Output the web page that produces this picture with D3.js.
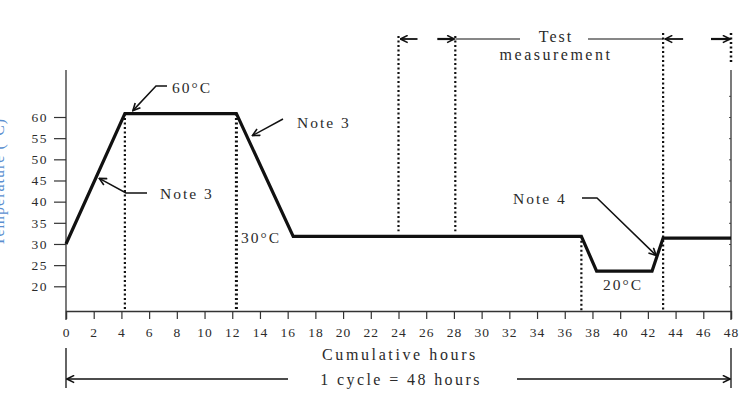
<!DOCTYPE html>
<html>
<head>
<meta charset="utf-8">
<script src="https://cdn.jsdelivr.net/npm/d3@7"></script>
<style>
  body { margin: 0; background: #fff; }
  text { font-family: "Liberation Serif", "Times New Roman", serif; fill: #2b2b2b; }
</style>
</head>
<body>
<div id="chart"></div>
<script>
// chart size
const width = 756;
const height = 393;

// temperature profile of one cycle (hours, degC)
const hours = [0, 4.25, 12.3, 16.4, 37.2, 38.3, 42.3, 43.1, 48];
const temps = [30, 60.8, 60.8, 31.8, 31.8, 23.6, 23.6, 31.4, 31.4];

// tick labels
const xTicks = [0, 2, 4, 6, 8, 10, 12, 14, 16, 18, 20, 22, 24, 26, 28, 30, 32, 34, 36, 38, 40, 42, 44, 46, 48];
const yTicks = [20, 25, 30, 35, 40, 45, 50, 55, 60];
const rightTicks = [20, 25, 30, 35, 40, 45, 50, 55, 60, 65];

// dotted marker lines
const dropHours = [4.25, 12.3, 37.2];
const testHours = [24, 28.1];
const testEdge = 43.1;
const cycleEnd = 48;

const svg = d3.select("#chart")
  .append("svg")
  .attr("width", width)
  .attr("height", height);

const x = d3.scaleLinear().domain([0, 48]).range([66, 731]);
const y = d3.scaleLinear().domain([20, 60]).range([286.3, 117]);
const axisY = 311;   // x axis position
const topY = 70;     // top of y axis

// arrow head
svg.append("defs").append("marker")
  .attr("id", "arr")
  .attr("viewBox", "0 0 10 10")
  .attr("refX", 9)
  .attr("refY", 5)
  .attr("markerWidth", 9)
  .attr("markerHeight", 9)
  .attr("markerUnits", "userSpaceOnUse")
  .attr("orient", "auto")
  .append("path")
  .attr("d", "M1,1 L9,5 L1,9")
  .attr("fill", "none")
  .attr("stroke", "#111")
  .attr("stroke-width", 1.8);

// y axis
const yAxis = svg.append("g")
  .attr("transform", "translate(" + x(0) + ",0)")
  .call(d3.axisLeft(y).tickValues(yTicks).tickSize(12).tickPadding(6));
yAxis.select(".domain").remove();
yAxis.selectAll("line").attr("stroke", "#333").attr("stroke-width", 1.2);
yAxis.selectAll("text")
  .style("font-size", "13.5px")
  .style("letter-spacing", "1.5px")
  .attr("fill", "#333")
  .style("font-family", "'Liberation Serif', serif");
svg.append("line")
  .attr("x1", x(0)).attr("x2", x(0))
  .attr("y1", topY).attr("y2", axisY + 9)
  .attr("stroke", "#333").attr("stroke-width", 1.3);

// x axis
const xAxis = svg.append("g")
  .attr("transform", "translate(0," + axisY + ")")
  .call(d3.axisBottom(x).tickValues(xTicks).tickSize(8).tickPadding(8));
xAxis.select(".domain").attr("stroke", "#333").attr("stroke-width", 1.3);
xAxis.selectAll("line").attr("stroke", "#333").attr("stroke-width", 1.2);
xAxis.selectAll("text")
  .style("font-size", "13.5px")
  .style("letter-spacing", "1px")
  .attr("fill", "#333")
  .style("font-family", "'Liberation Serif', serif");

// right axis with tiny inner ticks
const rAxis = svg.append("g")
  .attr("transform", "translate(" + x(48) + ",0)")
  .call(d3.axisLeft(y).tickValues(rightTicks).tickSize(2).tickFormat(""));
rAxis.select(".domain").remove();
rAxis.selectAll("line").attr("stroke", "#555");
svg.append("line")
  .attr("x1", x(48)).attr("x2", x(48))
  .attr("y1", topY).attr("y2", axisY + 9)
  .attr("stroke", "#333").attr("stroke-width", 1.3);

// y label, mostly cut off at the left edge as in the original
svg.append("text")
  .attr("transform", "translate(4,182) rotate(-90)")
  .attr("text-anchor", "middle")
  .style("font-size", "16px")
  .style("letter-spacing", "1px")
  .style("fill", "#5b8fd0")
  .text("Temperature (°C)");

// dotted lines down from the profile corners
svg.selectAll(".drop")
  .data(dropHours)
  .enter()
  .append("line")
  .attr("x1", d => x(d)).attr("x2", d => x(d))
  .attr("y1", (d, i) => i < 2 ? y(60.8) : y(31.8))
  .attr("y2", axisY)
  .attr("stroke", "#111")
  .attr("stroke-width", (d, i) => i === 1 ? 3 : 2.2)
  .attr("stroke-dasharray", "2,2.5");

// test measurement dotted lines
svg.selectAll(".test")
  .data(testHours)
  .enter()
  .append("line")
  .attr("x1", d => x(d)).attr("x2", d => x(d))
  .attr("y1", 36)
  .attr("y2", y(31.8) - 5)
  .attr("stroke", "#111")
  .attr("stroke-width", 2.2)
  .attr("stroke-dasharray", "2,2.5");
svg.append("line")
  .attr("x1", x(testEdge)).attr("x2", x(testEdge))
  .attr("y1", 33).attr("y2", axisY)
  .attr("stroke", "#111").attr("stroke-width", 2.2)
  .attr("stroke-dasharray", "2,2.5");
svg.append("line")
  .attr("x1", x(cycleEnd)).attr("x2", x(cycleEnd))
  .attr("y1", 33).attr("y2", 64)
  .attr("stroke", "#111").attr("stroke-width", 2.5)
  .attr("stroke-dasharray", "2,2.5");

// temperature profile
const line = d3.line()
  .x(d => x(d[0]))
  .y(d => y(d[1]));
svg.append("path")
  .datum(hours.map((h, i) => [h, temps[i]]))
  .attr("d", line)
  .attr("fill", "none")
  .attr("stroke", "#111")
  .attr("stroke-width", 3.2)
  .attr("stroke-linejoin", "miter");

// helpers for annotations
function leader(points, arrow, w) {
  svg.append("path")
    .attr("d", d3.line()(points))
    .attr("fill", "none")
    .attr("stroke", "#111")
    .attr("stroke-width", w || 1.4)
    .attr("marker-end", arrow ? "url(#arr)" : null);
}
function label(tx, ty, str, size, anchor, spacing) {
  svg.append("text")
    .attr("x", tx)
    .attr("y", ty)
    .attr("text-anchor", anchor || "start")
    .style("font-size", (size || 15) + "px")
    .style("letter-spacing", (spacing == null ? 1.5 : spacing) + "px")
    .text(str);
}

// 60C annotation
leader([[167, 86], [156, 86], [x(4.25) + 8, y(60.8) - 3]], true, 1.5);
label(172, 93, "60°C", 15.5, "start", 2);

// Note 3 on the fall
leader([[283, 119], [x(12.3) + 16, y(60.8) + 22]], true, 1.5);
label(297, 128, "Note 3", 15.5, "start", 2);

// Note 3 on the rise
leader([[147, 193], [126, 193], [x(2.4), y(45.5)]], true, 1.5);
label(160, 199, "Note 3", 15.5, "start", 2);

// 30C
label(241, 243, "30°C", 15.5, "start", 2);

// Note 4
leader([[582, 198], [597, 198], [x(43.1) - 7, y(27.3)]], true, 1.5);
label(513, 204, "Note 4", 15.5, "start", 2);

// 20C
label(603, 290, "20°C", 15.5, "start", 2);

// test measurement bracket
label(556, 42, "Test", 16, "middle", 2);
label(556, 60, "measurement", 16, "middle", 2.5);
const ay = 39;
leader([[x(testHours[0]) + 19, ay], [x(testHours[0]) + 2, ay]], true, 1.8);
leader([[x(testHours[1]) - 18, ay], [x(testHours[1]) - 1, ay]], true, 2.2);
leader([[x(testHours[1]), ay], [520, ay]], false, 1.2);
leader([[588, ay], [x(testEdge), ay]], false, 1.2);
leader([[x(testEdge) + 20, ay], [x(testEdge) + 2, ay]], true, 1.8);
leader([[x(cycleEnd) - 20, ay], [x(cycleEnd) - 1, ay]], true, 2.2);

// x title
label(400, 360, "Cumulative hours", 16, "middle", 2.6);

// one cycle span
label(401, 385, "1 cycle = 48 hours", 16, "middle", 2.4);
svg.selectAll(".cyc")
  .data([0, 48])
  .enter()
  .append("line")
  .attr("x1", d => x(d)).attr("x2", d => x(d))
  .attr("y1", 348).attr("y2", 388)
  .attr("stroke", "#111").attr("stroke-width", 1.3);
leader([[288, 379], [x(0) + 1, 379]], true, 1.5);
leader([[517, 379], [x(48) - 1, 379]], true, 1.5);
</script>
</body>
</html>
